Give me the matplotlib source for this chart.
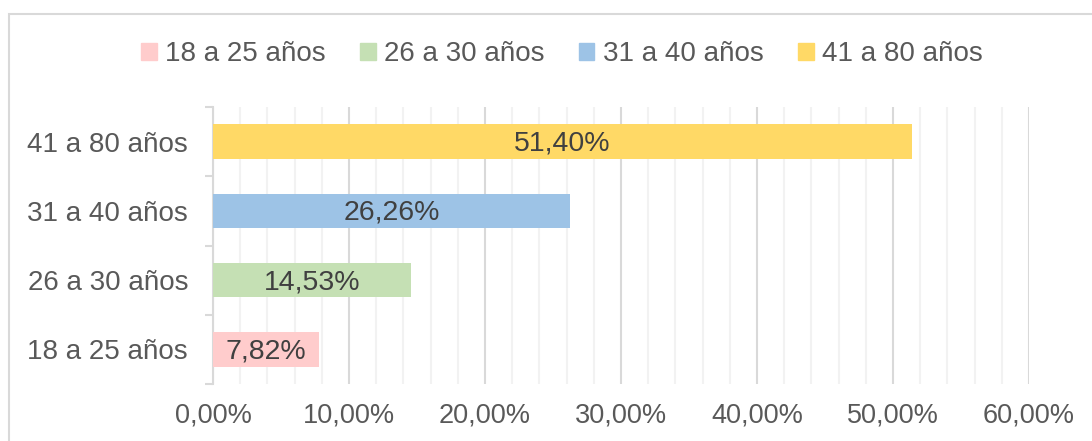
import matplotlib.pyplot as plt
from matplotlib.patches import Rectangle
import numpy as np

plt.rcParams['font.family'] = ['Liberation Sans', 'DejaVu Sans']

categorias = ['18 a 25 años', '26 a 30 años', '31 a 40 años', '41 a 80 años']
valores = [7.82, 14.53, 26.26, 51.40]
colores = ['#FFCCCC', '#C5E0B4', '#9DC3E6', '#FFD966']
ticks_x = [0, 10, 20, 30, 40, 50, 60]

gris = '#595959'

fig = plt.figure(figsize=(10.92, 4.41), dpi=100)
ax = fig.add_axes([213 / 1092, 1 - 384 / 441, (1029 - 213) / 1092, (384 - 107) / 441])

# marco exterior del grafico
fig.patches.append(Rectangle((9 / 1092, -0.1), 1.2, 1 - 14 / 441 + 0.1,
                             transform=fig.transFigure, fill=False,
                             edgecolor='#D9D9D9', linewidth=1.5))

y = np.arange(len(categorias))
barras = ax.barh(y, valores, height=0.5, color=colores, zorder=3)

for i, v in enumerate(valores):
    etiqueta = f'{v:.2f}%'.replace('.', ',')
    ax.text(v / 2, i - 0.03, etiqueta, ha='center', va='center',
            fontsize=20.5, color='#404040', zorder=4)

ax.set_xlim(0, 60)
ax.set_ylim(-0.5, len(categorias) - 0.5)
ax.set_xticks(ticks_x)
ax.set_xticklabels([f'{t:.2f}%'.replace('.', ',') for t in ticks_x])
ax.set_xticks(np.arange(0, 61, 2), minor=True)
ax.grid(axis='x', which='major', color='#D9D9D9', linewidth=1.5, zorder=0)
ax.grid(axis='x', which='minor', color='#F2F2F2', linewidth=1.5, zorder=0)
ax.tick_params(axis='x', which='both', length=0, labelsize=19.5,
               labelcolor=gris, pad=13)

ax.set_yticks(y)
ax.set_yticklabels(categorias)
ax.set_yticks(np.arange(-0.5, len(categorias), 1), minor=True)
ax.tick_params(axis='y', which='major', length=0, labelsize=20,
               labelcolor=gris, pad=18)
ax.tick_params(axis='y', which='minor', length=6, color='#D9D9D9', width=1.5)

for s in ['top', 'right', 'bottom']:
    ax.spines[s].set_visible(False)
ax.spines['left'].set_color('#D9D9D9')
ax.spines['left'].set_linewidth(1.5)

handles = [Rectangle((0, 0), 1, 1, color=c) for c in colores]
fig.legend(handles, categorias, loc='center', bbox_to_anchor=(562 / 1092, 1 - 54 / 441),
           ncol=4, frameon=False, fontsize=20, labelcolor=gris,
           handlelength=0.55, handleheight=0.55, handletextpad=0.3,
           columnspacing=1.25)

fig.savefig('out.png', dpi=100)
